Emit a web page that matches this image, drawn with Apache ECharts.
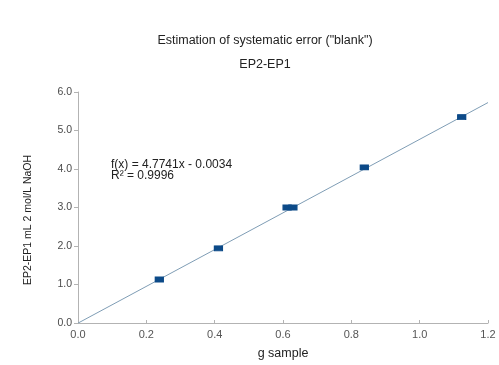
<!DOCTYPE html>
<html>
<head>
<meta charset="utf-8">
<script src="https://cdn.jsdelivr.net/npm/echarts@6/dist/echarts.min.js"></script>
<style>
  html, body { margin: 0; padding: 0; background: #fff; }
  #chart { width: 499px; height: 365px; }
</style>
</head>
<body>
<div id="chart"></div>
<script>
// measured points (g sample, EP2-EP1 mL)
const sampleG = [0.238, 0.411, 0.612, 0.629, 0.838, 1.123]
const volumeML = [1.13, 1.94, 3.0, 3.0, 4.04, 5.35]

// linear trend as printed on the chart
const slope = 4.7741
const intercept = -0.0034
const trendX = [0, 1.2]

const xTicks = ['0.0', '0.2', '0.4', '0.6', '0.8', '1.0', '1.2']
const yTicks = ['0.0', '1.0', '2.0', '3.0', '4.0', '5.0', '6.0']

const font = '"Liberation Sans", Arial, sans-serif'
const chart = echarts.init(document.getElementById('chart'))

chart.setOption({
  animation: false,
  textStyle: { fontFamily: font },
  title: [
    { text: 'Estimation of systematic error ("blank")', left: 260, top: 29, textAlign: 'center',
      textStyle: { fontSize: 12.5, fontWeight: 'normal', color: '#222', fontFamily: font } },
    { text: 'EP2-EP1', left: 260, top: 53, textAlign: 'center',
      textStyle: { fontSize: 12.5, fontWeight: 'normal', color: '#222', fontFamily: font } }
  ],
  grid: { left: 78, right: 11, top: 92, bottom: 37 },
  xAxis: {
    type: 'value', min: 0, max: 1.2, interval: 0.2,
    name: 'g sample', nameLocation: 'middle', nameGap: 24,
    nameTextStyle: { fontSize: 12.5, color: '#222' },
    axisLine: { lineStyle: { color: '#b3b3b3' } },
    axisTick: { show: true, inside: true, length: 3, lineStyle: { color: '#b3b3b3' } },
    splitLine: { show: false },
    axisLabel: { fontSize: 11, color: '#555', margin: 6,
      formatter: v => xTicks[Math.round(v / 0.2)] }
  },
  yAxis: {
    type: 'value', min: 0, max: 6, interval: 1,
    axisLine: { show: true, lineStyle: { color: '#b3b3b3' } },
    axisTick: { show: true, length: 4, lineStyle: { color: '#b3b3b3' } },
    splitLine: { show: false },
    axisLabel: { fontSize: 10.5, color: '#4a4a4a', margin: 6,
      formatter: v => yTicks[Math.round(v)] }
  },
  graphic: [
    // y axis title sits a bit below the plot's middle in the original
    { type: 'text', x: 28, y: 220, rotation: Math.PI / 2,
      style: { text: 'EP2-EP1 mL 2 mol/L NaOH', fontSize: 10.5, fill: '#222', fontFamily: font,
        align: 'center', verticalAlign: 'middle' } },
    { type: 'text', left: 111, top: 159,
      style: { text: 'f(x) = 4.7741x - 0.0034\nR² = 0.9996', fontSize: 12, lineHeight: 11,
        fill: '#222', fontFamily: font } }
  ],
  series: [
    {
      type: 'line',
      data: trendX.map(x => [x, slope * x + intercept]),
      symbol: 'none',
      lineStyle: { color: '#7f9db5', width: 1 },
      z: 1
    },
    {
      type: 'scatter',
      data: sampleG.map((x, i) => [x, volumeML[i]]),
      symbol: 'rect',
      symbolSize: [8, 5],
      itemStyle: { color: '#0c4a88', borderColor: '#0c4a88', borderWidth: 1, opacity: 1 },
      z: 2
    }
  ]
})
</script>
</body>
</html>
